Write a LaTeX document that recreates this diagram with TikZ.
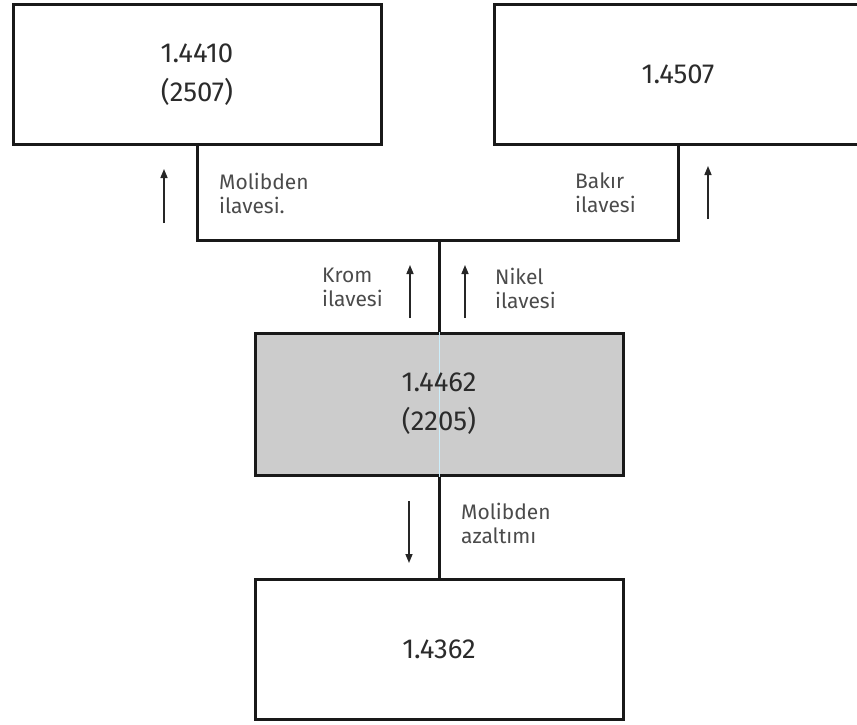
\documentclass[tikz,border=0pt]{standalone}
\usepackage{fontspec}
\setmainfont{Fira Sans}
\usetikzlibrary{arrows.meta}
\definecolor{txt}{HTML}{2B2B2B}
\definecolor{boxgray}{HTML}{CCCCCC}
\begin{document}
\begin{tikzpicture}[x=1pt,y=-1pt,
  alloy/.style={draw=black!90, line width=3pt, minimum width=368pt, inner sep=0pt,
    text=txt, font=\fontsize{27.5}{39}\selectfont, align=center},
  lbl/.style={inner sep=0pt, anchor=west, align=left, text=txt!85,
    font=\fontsize{21}{24}\selectfont},
  link/.style={draw=black!90, line width=3pt},
  flow/.style={draw=black!85, line width=1.5pt, -{Triangle[width=7pt,length=9pt]}}]
\useasboundingbox (0,0) rectangle (857,725);
% boxes
\node[alloy, minimum height=139pt] (A) at (197,74.5) {1.4410\\(2507)};
\node[alloy, minimum height=139pt] (B) at (678,74.5) {1.4507};
\node[alloy, minimum height=142pt, fill=boxgray] (G) at (439,404) {\phantom{1.4462}\\\phantom{(2205)}};
\draw[cyan!20, line width=0.5pt] (G.north) -- (G.south);
\node[inner sep=0pt, text=txt, font=\fontsize{27.5}{39}\selectfont, align=center] (Gt) at (G.center) {1.4462\\(2205)};
\node[alloy, minimum height=140pt] (D) at (439,649) {1.4362};
% connectors
\coordinate (J) at (439,240);
\draw[link] (A.south) |- (J) -| (B.south);
\draw[link] (J) -- (G.north);
\draw[link] (G.south) -- (D.north);
% arrows
\coordinate (a1s) at (164,223); \coordinate (a1e) at (164,169);
\coordinate (a2s) at (708,219); \coordinate (a2e) at (708,166);
\coordinate (a3s) at (410,318); \coordinate (a3e) at (410,265);
\coordinate (a4s) at (465,318); \coordinate (a4e) at (465,265);
\coordinate (a5s) at (409,501); \coordinate (a5e) at (409,563);
\draw[flow] (a1s) -- (a1e);
\draw[flow] (a2s) -- (a2e);
\draw[flow] (a3s) -- (a3e);
\draw[flow] (a4s) -- (a4e);
\draw[flow] (a5s) -- (a5e);
% labels
\node[lbl] (l1) at (219,193) {Molibden\\ilavesi.};
\node[lbl] (l2) at (575,193) {Bakır\\ilavesi};
\node[lbl] (l3) at (322,287) {Krom\\ilavesi};
\node[lbl] (l4) at (495,288) {Nikel\\ilavesi};
\node[lbl] (l5) at (461,523) {Molibden\\azaltımı};
\end{tikzpicture}
\end{document}
